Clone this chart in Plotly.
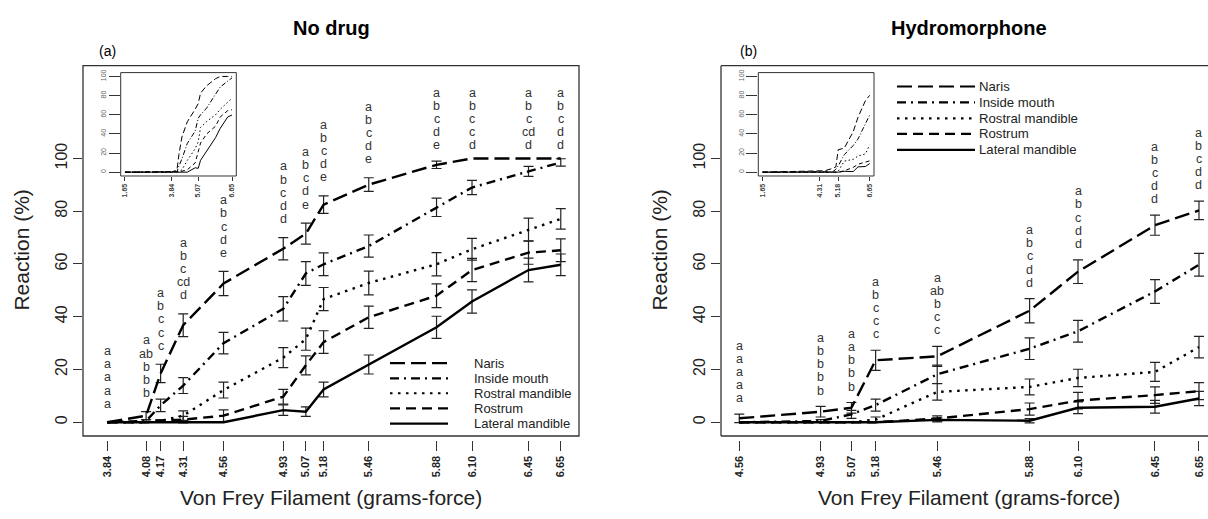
import plotly.graph_objects as go

W, H = 1208, 519
FONT = "Liberation Sans, Arial, sans-serif"

# ---------------- data ----------------
series_names = ["Naris", "Inside mouth", "Rostral mandible", "Rostrum", "Lateral mandible"]

x_nodrug = [3.84, 4.08, 4.17, 4.31, 4.56, 4.93, 5.07, 5.18, 5.46, 5.88, 6.10, 6.45, 6.65]
nd_naris = [0, 2.5, 18.5, 36.8, 52.6, 65.8, 71.5, 82.5, 90.1, 97.6, 100, 100, 100]
nd_naris_se = [None, 1.5, 3.5, 4.3, 4.6, 4.2, 4.0, 3.3, 2.6, 1.4, None, None, None]
nd_mouth = [0, 0.5, 6.4, 13.9, 30.0, 43.0, 56.4, 59.9, 66.8, 81.5, 89.0, 95.1, 98.5]
nd_mouth_se = [None, 0.5, 2.4, 3.0, 4.1, 4.6, 4.5, 4.3, 4.2, 3.5, 2.7, 1.9, 1.4]
nd_rostral = [0, 0, 0.5, 2.5, 12.2, 24.5, 31.5, 46.7, 52.8, 59.9, 65.6, 73.1, 77.1]
nd_rostral_se = [None, None, 0.5, 1.8, 3.0, 3.8, 4.2, 4.4, 4.5, 4.4, 4.1, 4.3, 3.9]
nd_rostrum = [0, 0, 0.5, 1.0, 2.5, 9.7, 21.6, 30.4, 39.8, 48.0, 57.7, 64.3, 65.2]
nd_rostrum_se = [None, None, 0.5, 1.2, 2.2, 2.8, 3.6, 4.3, 4.2, 4.5, 4.4, 4.4, 4.3]
nd_lateral = [0, 0, 0, 0, 0, 4.6, 4.0, 12.4, 21.9, 36.0, 45.8, 57.7, 59.7]
nd_lateral_se = [None, None, None, None, None, 2.0, 1.8, 2.8, 3.6, 4.2, 4.4, 4.5, 4.1]
nd_letters = [
    ["a", "a", "a", "a", "a"],
    ["a", "ab", "b", "b", "b"],
    ["a", "b", "c", "c", "c"],
    ["a", "b", "c", "cd", "d"],
    ["a", "b", "c", "d", "e"],
    ["a", "b", "c", "d", "d"],
    ["a", "b", "c", "d", "e"],
    ["a", "b", "c", "d", "e"],
    ["a", "b", "c", "d", "e"],
    ["a", "b", "c", "d", "e"],
    ["a", "b", "c", "c", "d"],
    ["a", "b", "c", "cd", "d"],
    ["a", "b", "c", "d", "d"],
]

x_hydro = [4.56, 4.93, 5.07, 5.18, 5.46, 5.88, 6.10, 6.45, 6.65]
hy_naris = [1.5, 4.0, 5.5, 23.5, 25.0, 42.3, 57.1, 74.7, 80.3]
hy_naris_se = [1.6, 2.0, 2.0, 3.8, 3.8, 4.6, 4.5, 3.8, 3.5]
hy_mouth = [0, 0.5, 3.0, 6.5, 18.2, 27.9, 34.5, 49.6, 59.7]
hy_mouth_se = [None, 0.5, 1.5, 2.3, 3.5, 4.1, 4.1, 4.5, 4.3]
hy_rostral = [0, 0, 0, 1.0, 11.5, 13.4, 16.8, 19.1, 28.5]
hy_rostral_se = [None, None, None, 1.0, 3.1, 3.0, 3.3, 3.6, 4.1]
hy_rostrum = [0, 0, 0, 0, 1.4, 5.0, 8.2, 10.3, 11.8]
hy_rostrum_se = [None, None, None, None, 1.0, 2.3, 3.1, 3.1, 3.2]
hy_lateral = [0, 0, 0, 0, 0.9, 0.6, 5.5, 5.9, 9.0]
hy_lateral_se = [None, None, None, None, 0.8, 0.8, 2.2, 2.4, 2.7]
hy_letters = [
    ["a", "a", "a", "a", "a"],
    ["a", "b", "b", "b", "b"],
    ["a", "a", "b", "b", "b"],
    ["a", "b", "c", "c", "c"],
    ["a", "ab", "b", "c", "c"],
    ["a", "b", "c", "d", "d"],
    ["a", "b", "c", "d", "d"],
    ["a", "b", "c", "d", "d"],
    ["a", "b", "c", "d", "d"],
]

inset_start_x = 1.65      # lowest filament: all responses 0
inset_start_val = 0
nd_inset_ticks = [1.65, 3.84, 5.07, 6.65]
hy_inset_ticks = [1.65, 4.31, 5.18, 6.65]
y_ticks = [0, 20, 40, 60, 80, 100]

# ---------------- styles ----------------
dashes = ["15px,6px", "9px,5px,2px,5px", "2.5px,5.5px", "10px,6px", "solid"]
inset_dashes = ["6px,3px", "5px,2px,1px,2px", "1.5px,2.5px", "4px,3px", "solid"]


def px(xp):
    return xp / W


def py(yp):
    return (H - yp) / H


fig = go.Figure()
annotations = []


def add_panel(xs, vals, ses, letters, xa, ya, xa_in, ya_in, gap, cap):
    # error bars (only where an error exists)
    for v, e in zip(vals, ses):
        ex = [x for x, s in zip(xs, e) if s is not None]
        ey = [y for y, s in zip(v, e) if s is not None]
        ee = [s for s in e if s is not None]
        fig.add_trace(go.Scatter(
            x=ex, y=ey, mode="markers", xaxis=xa, yaxis=ya,
            marker=dict(size=1, color="rgba(0,0,0,0)"), showlegend=False,
            hoverinfo="skip",
            error_y=dict(type="data", array=ee, visible=True, color="#222",
                         thickness=1.2, width=5)))
    for v, d in zip(vals, dashes):
        fig.add_trace(go.Scatter(
            x=xs, y=v, mode="lines", xaxis=xa, yaxis=ya, showlegend=False,
            line=dict(color="black", width=2.4, dash=d), hoverinfo="skip"))
    # inset lines
    for v, d in zip(vals, inset_dashes):
        fig.add_trace(go.Scatter(
            x=[inset_start_x] + list(xs), y=[inset_start_val] + list(v),
            mode="lines", xaxis=xa_in, yaxis=ya_in, showlegend=False,
            line=dict(color="black", width=1, dash=d), hoverinfo="skip"))
    # significance letters
    for i, x in enumerate(xs):
        top = max(v[i] + (e[i] or 0) for v, e in zip(vals, ses))
        base = min(top + gap, cap)
        stack = letters[i]
        n = len(stack)
        for k, s in enumerate(stack):
            annotations.append(dict(
                text=s, x=x, y=base + 5.0 * (n - 1 - k), xref=xa, yref=ya,
                xanchor="center", yanchor="middle", showarrow=False,
                font=dict(family=FONT, size=12.5, color="#333")))


add_panel(x_nodrug, [nd_naris, nd_mouth, nd_rostral, nd_rostrum, nd_lateral],
          [nd_naris_se, nd_mouth_se, nd_rostral_se, nd_rostrum_se, nd_lateral_se],
          nd_letters, "x", "y", "x3", "y3", 7, 105)
add_panel(x_hydro, [hy_naris, hy_mouth, hy_rostral, hy_rostrum, hy_lateral],
          [hy_naris_se, hy_mouth_se, hy_rostral_se, hy_rostrum_se, hy_lateral_se],
          hy_letters, "x2", "y2", "x4", "y4", 6, 105)

main_ydom = [py(435.5), py(63)]
inset_ydom = [py(174), py(70)]

common_x = dict(showgrid=False, zeroline=False, showline=False, ticks="outside",
                tickcolor="#333", tickwidth=1.2, ticklen=10, tickangle=-90,
                tickfont=dict(family=FONT, size=11, color="#222", weight="bold"),
                anchor="free", position=py(440))
common_y = dict(showgrid=False, zeroline=False, showline=False, ticks="outside",
                tickcolor="#333", tickwidth=1.2, ticklen=9, tickangle=-90,
                tickvals=y_ticks, range=[-5.2, 135.2], domain=main_ydom,
                tickfont=dict(family=FONT, size=16, color="#222"))
inset_x = dict(showgrid=False, zeroline=False, showline=False, ticks="outside",
               tickcolor="#333", tickwidth=1, ticklen=4, tickangle=-90,
               range=[1.45, 6.85],
               tickfont=dict(family=FONT, size=7, color="#444", weight="bold"))
inset_y = dict(showgrid=False, zeroline=False, showline=False, ticks="outside",
               tickcolor="#333", tickwidth=1, ticklen=11, tickangle=-90,
               tickvals=y_ticks, range=[-4, 104], domain=inset_ydom,
               tickfont=dict(family=FONT, size=7, color="#666"))

fig.update_layout(
    width=W, height=H, autosize=False,
    margin=dict(l=0, r=0, t=0, b=0),
    paper_bgcolor="white", plot_bgcolor="white",
    showlegend=False,
    xaxis=dict(common_x, domain=[px(83), px(579)], range=[3.689, 6.763],
               tickvals=x_nodrug, ticktext=[f"{v:.2f}" for v in x_nodrug]),
    yaxis=dict(common_y, anchor="x"),
    xaxis2=dict(common_x, domain=[px(721), 1.0], range=[4.477, 6.691],
                tickvals=x_hydro, ticktext=[f"{v:.2f}" for v in x_hydro]),
    yaxis2=dict(common_y, anchor="x2"),
    xaxis3=dict(inset_x, domain=[px(120.7), px(236.3)], anchor="y3",
                tickvals=nd_inset_ticks, ticktext=[f"{v:.2f}" for v in nd_inset_ticks]),
    yaxis3=dict(inset_y, anchor="x3"),
    xaxis4=dict(inset_x, domain=[px(758.3), px(874)], anchor="y4",
                tickvals=hy_inset_ticks, ticktext=[f"{v:.2f}" for v in hy_inset_ticks]),
    yaxis4=dict(inset_y, anchor="x4"),
)

shapes = []
box_line = dict(color="#333", width=1.3)
shapes.append(dict(type="rect", xref="x domain", yref="y domain", x0=0, x1=1, y0=0, y1=1,
                   line=box_line, layer="above"))
# right panel is cut by the page edge: left, top and bottom sides only
for (x0, y0, x1, y1) in [(0, 0, 0, 1), (0, 1, 1.02, 1), (0, 0, 1.02, 0)]:
    shapes.append(dict(type="line", xref="x2 domain", yref="y2 domain",
                       x0=x0, y0=y0, x1=x1, y1=y1, line=box_line, layer="above"))
for ax in ["x3", "x4"]:
    yax = "y3" if ax == "x3" else "y4"
    shapes.append(dict(type="rect", xref=f"{ax} domain", yref=f"{yax} domain",
                       x0=0, x1=1, y0=0, y1=1, line=dict(color="#333", width=1),
                       fillcolor="rgba(0,0,0,0)", layer="above"))

# legends
leg_specs = [
    (390, 448, 471.5, [362.3, 377.5, 392.5, 407.8, 423.0], 13),
    (897, 975, 977, [84.0, 100.0, 116.0, 131.7, 147.7], 13.2),
]
for (lx0, lx1, tx, rows, fs) in leg_specs:
    for name, d, ry in zip(series_names, dashes, rows):
        shapes.append(dict(type="line", xref="paper", yref="paper",
                           x0=px(lx0), x1=px(lx1), y0=py(ry), y1=py(ry),
                           line=dict(color="black", width=2.2, dash=d)))
        annotations.append(dict(text=name, xref="paper", yref="paper",
                                x=px(tx), y=py(ry), xanchor="left", yanchor="middle",
                                showarrow=False, font=dict(family=FONT, size=fs, color="#222")))

# titles and labels
for cx, title, tag, tagx in [(331, "No drug", "(a)", 107), (969, "Hydromorphone", "(b)", 748)]:
    annotations.append(dict(text=f"<b>{title}</b>", xref="paper", yref="paper",
                            x=px(cx), y=py(25), xanchor="center", yanchor="middle",
                            showarrow=False, font=dict(family=FONT, size=20, color="black")))
    annotations.append(dict(text=tag, xref="paper", yref="paper",
                            x=px(tagx), y=py(48), xanchor="center", yanchor="middle",
                            showarrow=False, font=dict(family=FONT, size=14, color="black")))
    annotations.append(dict(text="Von Frey Filament (grams-force)", xref="paper", yref="paper",
                            x=px(cx), y=py(497), xanchor="center", yanchor="middle",
                            showarrow=False, font=dict(family=FONT, size=21, color="#222")))
for cx in [22, 660]:
    annotations.append(dict(text="Reaction (%)", xref="paper", yref="paper",
                            x=px(cx), y=py(249), xanchor="center", yanchor="middle",
                            textangle=-90, showarrow=False,
                            font=dict(family=FONT, size=21, color="#222")))

fig.update_layout(shapes=shapes, annotations=annotations)
fig.write_html("out.html", config={"displayModeBar": False},
               post_script="document.body.style.margin='0px';document.body.style.padding='0px';")
